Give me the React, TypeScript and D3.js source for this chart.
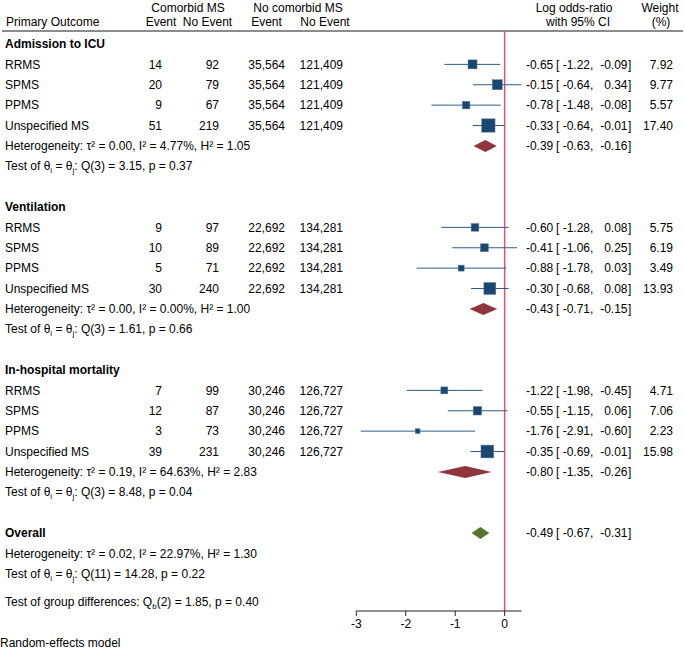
import React from "react";
import * as d3 from "d3";

const outcomes = ["Admission to ICU", "Ventilation", "In-hospital mortality"];
const subtypes = ["RRMS", "SPMS", "PPMS", "Unspecified MS"];
const comorbidEvent = [[14, 20, 9, 51], [9, 10, 5, 30], [7, 12, 3, 39]];
const comorbidNoEvent = [[92, 79, 67, 219], [97, 89, 71, 240], [99, 87, 73, 231]];
const noComorbidEvent = [35564, 22692, 30246];
const noComorbidNoEvent = [121409, 134281, 126727];
const logOR = [[-0.65, -0.15, -0.78, -0.33], [-0.60, -0.41, -0.88, -0.30], [-1.22, -0.55, -1.76, -0.35]];
const ciLow = [[-1.22, -0.64, -1.48, -0.64], [-1.28, -1.06, -1.78, -0.68], [-1.98, -1.15, -2.91, -0.69]];
const ciHigh = [[-0.09, 0.34, -0.08, -0.01], [0.08, 0.25, 0.03, 0.08], [-0.45, 0.06, -0.60, -0.01]];
const weights = [[7.92, 9.77, 5.57, 17.40], [5.75, 6.19, 3.49, 13.93], [4.71, 7.06, 2.23, 15.98]];
const groupEst = [-0.39, -0.43, -0.80];
const groupLow = [-0.63, -0.71, -1.35];
const groupHigh = [-0.16, -0.15, -0.26];
const groupTau2 = [0.00, 0.00, 0.19];
const groupI2 = [4.77, 0.00, 64.63];
const groupH2 = [1.05, 1.00, 2.83];
const groupQ = [3.15, 1.61, 8.48];
const groupQdf = [3, 3, 3];
const groupP = [0.37, 0.66, 0.04];
const overallEst = -0.49, overallLow = -0.67, overallHigh = -0.31;
const overallTau2 = 0.02, overallI2 = 22.97, overallH2 = 1.30;
const overallQ = 14.28, overallQdf = 11, overallP = 0.22;
const groupDiffQ = 1.85, groupDiffDf = 2, groupDiffP = 0.40;
const xTicks = [-3, -2, -1, 0];

const FONT = "'Liberation Sans', Arial, Helvetica, sans-serif";
const NAVY = "#1a476f";
const CI_COLOR = "#2f5b85";
const MAROON = "#90353b";
const GREEN = "#55752f";
const RED = "#e3556f";

const f2 = (v: number) => v.toFixed(2);
const fc = d3.format(",");

export default function App() {
  const W = 685, H = 649;
  const x = d3.scaleLinear().domain([-3, 0.34]).range([356.3, 521.5]);
  const y = d3.scaleLinear().domain([0, 24]).range([44, 533]);
  const size = (w: number) => 3.2 * Math.sqrt(w);
  const axisY = 611;
  const headerLineY = 31;

  const col = { name: 5, ce: 162, cn: 219, ne: 285, nn: 343, est: 553.3, lb: 556, lo: 590, up: 627.5, rb: 628, wt: 673 };

  const txt = (props: any, content: any, key?: any) => (
    <text key={key} fontFamily={FONT} fontSize={12} fill="#000" dy="0.35em" {...props}>{content}</text>
  );

  const estText = (yy: number, e: number, l: number, u: number, key: string) => (
    <g key={key}>
      {txt({ x: col.est, y: yy, textAnchor: "end" }, f2(e))}
      {txt({ x: col.lb, y: yy }, "[")}
      {txt({ x: col.lo, y: yy, textAnchor: "end" }, f2(l))}
      {txt({ x: col.lo, y: yy }, ",")}
      {txt({ x: col.up, y: yy, textAnchor: "end" }, f2(u))}
      {txt({ x: col.rb, y: yy }, "]")}
    </g>
  );

  const diamond = (yy: number, e: number, l: number, u: number, color: string, key: string) => {
    const h = 6;
    const pts = [[x(l), yy], [x(e), yy - h], [x(u), yy], [x(e), yy + h]];
    return <polygon key={key} points={pts.map((p) => p.join(",")).join(" ")} fill={color} />;
  };

  const hetText = (yy: number, t: number, i2: number, h2: number, key: string) =>
    txt({ x: col.name, y: yy }, `Heterogeneity: τ² = ${f2(t)}, I² = ${f2(i2)}%, H² = ${f2(h2)}`, key);

  const testText = (yy: number, q: number, df: number, p: number, key: string) => (
    <text key={key} x={col.name} y={yy} dy="0.35em" fontFamily={FONT} fontSize={12} fill="#000">
      Test of θ<tspan fontSize={8} dy={3}>i</tspan>
      <tspan dy={-3}> = θ</tspan>
      <tspan fontSize={8} dy={3}>j</tspan>
      <tspan dy={-3}>{`: Q(${df}) = ${f2(q)}, p = ${f2(p)}`}</tspan>
    </text>
  );

  const rows: any[] = [];
  outcomes.forEach((name, g) => {
    const base = g * 8;
    rows.push(txt({ x: col.name, y: y(base), fontWeight: "bold" }, name, `h${g}`));
    subtypes.forEach((s, i) => {
      const yy = y(base + 1 + i);
      const w = size(weights[g][i]);
      rows.push(
        <g key={`s${g}${i}`}>
          {txt({ x: col.name, y: yy }, s)}
          {txt({ x: col.ce, y: yy, textAnchor: "end" }, comorbidEvent[g][i])}
          {txt({ x: col.cn, y: yy, textAnchor: "end" }, comorbidNoEvent[g][i])}
          {txt({ x: col.ne, y: yy, textAnchor: "end" }, fc(noComorbidEvent[g]))}
          {txt({ x: col.nn, y: yy, textAnchor: "end" }, fc(noComorbidNoEvent[g]))}
          <line x1={x(ciLow[g][i])} x2={x(ciHigh[g][i])} y1={yy} y2={yy} stroke={CI_COLOR} strokeWidth={1} />
          <rect x={x(logOR[g][i]) - w / 2} y={yy - w / 2} width={w} height={w} fill={NAVY} stroke="#5a7fa3" strokeWidth={0.5} />
          {estText(yy, logOR[g][i], ciLow[g][i], ciHigh[g][i], "e")}
          {txt({ x: col.wt, y: yy, textAnchor: "end" }, f2(weights[g][i]))}
        </g>
      );
    });
    const hy = y(base + 5);
    rows.push(hetText(hy, groupTau2[g], groupI2[g], groupH2[g], `het${g}`));
    rows.push(diamond(hy, groupEst[g], groupLow[g], groupHigh[g], MAROON, `d${g}`));
    rows.push(estText(hy, groupEst[g], groupLow[g], groupHigh[g], `ge${g}`));
    rows.push(testText(y(base + 6), groupQ[g], groupQdf[g], groupP[g], `t${g}`));
  });

  const oy = y(24);

  return (
    <svg width={W} height={H} style={{ position: "absolute", left: 0, top: 0, background: "#fff" }}>
      {txt({ x: 188, y: 7.5, textAnchor: "middle" }, "Comorbid MS")}
      {txt({ x: 298, y: 7.5, textAnchor: "middle" }, "No comorbid MS")}
      {txt({ x: 574, y: 7.5, textAnchor: "middle" }, "Log odds-ratio")}
      {txt({ x: 660, y: 7.5, textAnchor: "middle" }, "Weight")}
      {txt({ x: 6, y: 22 }, "Primary Outcome")}
      {txt({ x: 161, y: 22, textAnchor: "middle" }, "Event")}
      {txt({ x: 207.5, y: 22, textAnchor: "middle" }, "No Event")}
      {txt({ x: 266.5, y: 22, textAnchor: "middle" }, "Event")}
      {txt({ x: 325, y: 22, textAnchor: "middle" }, "No Event")}
      {txt({ x: 578, y: 22, textAnchor: "middle" }, "with 95% CI")}
      {txt({ x: 661, y: 22, textAnchor: "middle" }, "(%)")}
      <line x1={2} x2={683} y1={headerLineY} y2={headerLineY} stroke="#666" strokeWidth={1.5} />

      <line x1={x(0)} x2={x(0)} y1={headerLineY} y2={axisY} stroke={RED} strokeWidth={1.5} />

      {rows}

      {txt({ x: col.name, y: oy, fontWeight: "bold" }, "Overall")}
      {diamond(oy, overallEst, overallLow, overallHigh, GREEN, "od")}
      {estText(oy, overallEst, overallLow, overallHigh, "oe")}
      {hetText(y(25), overallTau2, overallI2, overallH2, "oh")}
      {testText(y(26), overallQ, overallQdf, overallP, "ot")}
      <text x={col.name} y={y(27.4)} dy="0.35em" fontFamily={FONT} fontSize={12} fill="#000">
        Test of group differences: Q<tspan fontSize={8} dy={3}>b</tspan>
        <tspan dy={-3}>{`(${groupDiffDf}) = ${f2(groupDiffQ)}, p = ${f2(groupDiffP)}`}</tspan>
      </text>

      <line x1={x.range()[0]} x2={x.range()[1]} y1={axisY} y2={axisY} stroke="#222" strokeWidth={1} />
      {xTicks.map((t) => (
        <g key={t}>
          <line x1={x(t)} x2={x(t)} y1={axisY} y2={axisY + 5} stroke="#222" strokeWidth={1} />
          {txt({ x: x(t), y: 624, textAnchor: "middle" }, String(t))}
        </g>
      ))}

      {txt({ x: 0, y: 643 }, "Random-effects model")}
    </svg>
  );
}
